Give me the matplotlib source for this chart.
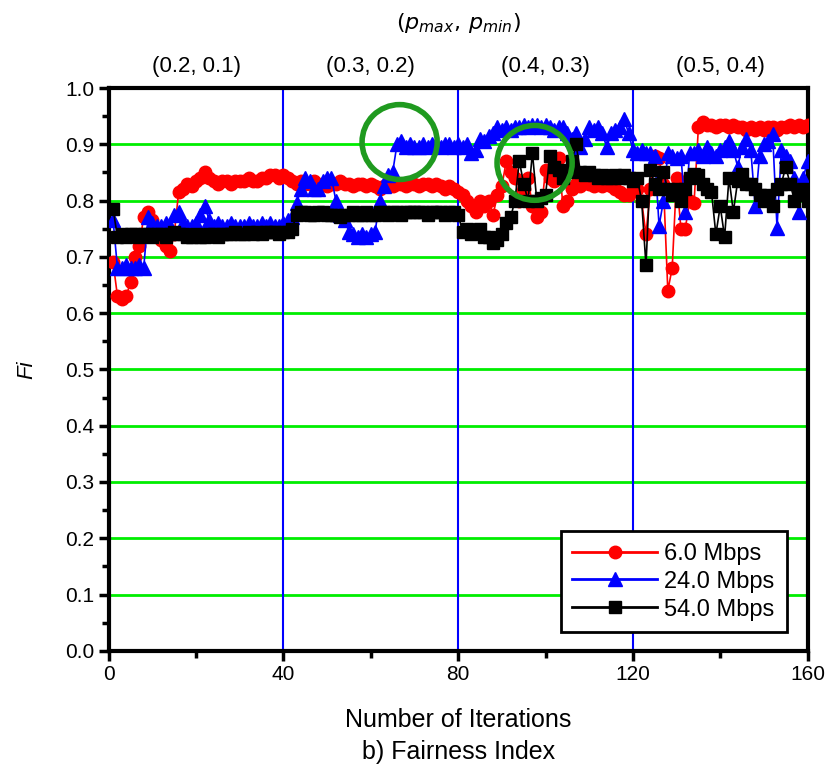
import numpy as np
import matplotlib.pyplot as plt
from matplotlib.patches import Ellipse
from matplotlib.ticker import MultipleLocator

# iterazioni
iterations = np.arange(1, 161)

fi_6 = [
    0.69, 0.63, 0.625, 0.63, 0.655, 0.70, 0.72, 0.77, 0.78, 0.765,
    0.74, 0.73, 0.72, 0.71, 0.74, 0.815, 0.82, 0.83, 0.825, 0.835,
    0.84, 0.85, 0.84, 0.835, 0.83, 0.835, 0.835, 0.83, 0.835, 0.835,
    0.835, 0.84, 0.835, 0.835, 0.84, 0.84, 0.845, 0.845, 0.84, 0.845,
    0.84, 0.835, 0.83, 0.835, 0.83, 0.83, 0.835, 0.83, 0.83, 0.825,
    0.83, 0.83, 0.835, 0.83, 0.83, 0.825, 0.83, 0.83, 0.825, 0.83,
    0.825, 0.82, 0.825, 0.83, 0.825, 0.83, 0.83, 0.825, 0.83, 0.83,
    0.825, 0.83, 0.83, 0.825, 0.83, 0.825, 0.82, 0.825, 0.82, 0.815,
    0.81, 0.80, 0.79, 0.78, 0.80, 0.79, 0.80, 0.775, 0.81, 0.825,
    0.87, 0.85, 0.84, 0.80, 0.82, 0.84, 0.79, 0.77, 0.78, 0.855,
    0.84, 0.835, 0.875, 0.79, 0.80, 0.82, 0.83, 0.825, 0.835, 0.83,
    0.825, 0.83, 0.825, 0.83, 0.825, 0.82, 0.815, 0.81, 0.81, 0.82,
    0.82, 0.80, 0.74, 0.82, 0.88, 0.875, 0.83, 0.64, 0.68, 0.84,
    0.75, 0.75, 0.80, 0.795, 0.93, 0.94, 0.935, 0.935, 0.93, 0.935,
    0.935, 0.93, 0.935, 0.93, 0.93, 0.925, 0.93, 0.925, 0.93, 0.925,
    0.93, 0.93, 0.925, 0.93, 0.93, 0.935, 0.93, 0.935, 0.93, 0.935,
]

fi_24 = [
    0.765, 0.68, 0.68, 0.685, 0.68, 0.68, 0.685, 0.68, 0.77, 0.76,
    0.755, 0.755, 0.76, 0.755, 0.775, 0.78, 0.76, 0.755, 0.755, 0.76,
    0.775, 0.79, 0.765, 0.755, 0.76, 0.755, 0.755, 0.76, 0.755, 0.755,
    0.755, 0.76, 0.755, 0.755, 0.76, 0.755, 0.76, 0.755, 0.755, 0.76,
    0.765, 0.77, 0.795, 0.82, 0.84, 0.835, 0.82, 0.82, 0.835, 0.84,
    0.84, 0.80, 0.775, 0.765, 0.745, 0.74, 0.735, 0.74, 0.735, 0.74,
    0.745, 0.80, 0.825, 0.845, 0.85, 0.90, 0.905, 0.895, 0.90, 0.895,
    0.895, 0.90, 0.895, 0.90, 0.90, 0.895, 0.90, 0.90, 0.895, 0.90,
    0.895, 0.90, 0.885, 0.89, 0.91, 0.905, 0.915, 0.92, 0.93, 0.925,
    0.93, 0.925, 0.93, 0.93, 0.935, 0.93, 0.935, 0.935, 0.93, 0.935,
    0.93, 0.925, 0.93, 0.93, 0.92, 0.91, 0.92, 0.895, 0.91, 0.93,
    0.925, 0.93, 0.92, 0.895, 0.92, 0.925, 0.93, 0.945, 0.92, 0.89,
    0.885, 0.89, 0.885, 0.885, 0.88, 0.755, 0.80, 0.885, 0.88, 0.875,
    0.88, 0.78, 0.885, 0.885, 0.89, 0.88, 0.895, 0.885, 0.88, 0.89,
    0.895, 0.905, 0.89, 0.86, 0.895, 0.91, 0.89, 0.79, 0.88, 0.90,
    0.905, 0.918, 0.752, 0.89, 0.88, 0.87, 0.84, 0.78, 0.84, 0.87,
]

fi_54 = [
    0.785, 0.735, 0.74, 0.735, 0.74, 0.74, 0.735, 0.74, 0.74, 0.735,
    0.74, 0.74, 0.735, 0.74, 0.745, 0.74, 0.74, 0.735, 0.735, 0.74,
    0.735, 0.735, 0.74, 0.74, 0.735, 0.74, 0.74, 0.74, 0.745, 0.74,
    0.74, 0.745, 0.74, 0.745, 0.74, 0.745, 0.745, 0.745, 0.74, 0.745,
    0.745, 0.75, 0.775, 0.78, 0.78, 0.775, 0.775, 0.78, 0.78, 0.775,
    0.775, 0.775, 0.77, 0.775, 0.775, 0.78, 0.775, 0.775, 0.78, 0.775,
    0.775, 0.78, 0.78, 0.775, 0.78, 0.78, 0.775, 0.78, 0.78, 0.78,
    0.78, 0.78, 0.775, 0.78, 0.78, 0.78, 0.775, 0.78, 0.78, 0.775,
    0.745, 0.75, 0.74, 0.745, 0.75, 0.735, 0.735, 0.725, 0.73, 0.74,
    0.76, 0.77, 0.80, 0.87, 0.83, 0.80, 0.885, 0.80, 0.805, 0.81,
    0.88, 0.86, 0.855, 0.84, 0.85, 0.87, 0.90, 0.85, 0.845, 0.85,
    0.845, 0.84, 0.845, 0.84, 0.84, 0.845, 0.84, 0.845, 0.84, 0.835,
    0.84, 0.80, 0.685, 0.855, 0.83, 0.82, 0.85, 0.82, 0.81, 0.82,
    0.80, 0.82, 0.84, 0.847, 0.845, 0.83, 0.82, 0.815, 0.74, 0.79,
    0.735, 0.84, 0.78, 0.835, 0.847, 0.83, 0.83, 0.82, 0.81, 0.80,
    0.81, 0.79, 0.82, 0.83, 0.86, 0.83, 0.80, 0.81, 0.82, 0.80,
]

# coppie (p_max, p_min) per ogni blocco di 40 iterazioni
block_labels = ["(0.2, 0.1)", "(0.3, 0.2)", "(0.4, 0.3)", "(0.5, 0.4)"]
block_edges = [40, 80, 120]

# cerchi di evidenziazione (centro x, centro y)
highlight_centers = [(66.6, 0.904), (97.5, 0.867)]

plt.rcParams['font.family'] = ['Liberation Sans', 'DejaVu Sans']

fig = plt.figure(figsize=(8.3, 7.72), dpi=100)
ax = fig.add_axes([0.131, 0.157, 0.842, 0.729])

# griglia verde e separatori blu
for g in np.arange(0.1, 0.95, 0.1):
    ax.axhline(g, color='#00ee00', linewidth=2, zorder=1)
for e in block_edges:
    ax.axvline(e, color='#0000ff', linewidth=1.5, zorder=1)

ax.plot(iterations, fi_6, color='red', marker='o', markersize=9,
        linewidth=1.2, label="6.0 Mbps", zorder=3)
ax.plot(iterations, fi_24, color='blue', marker='^', markersize=9.5,
        linewidth=1.2, label="24.0 Mbps", zorder=4)
ax.plot(iterations, fi_54, color='black', marker='s', markersize=8.5,
        linewidth=1.2, label="54.0 Mbps", zorder=5)

for cx, cy in highlight_centers:
    ax.add_patch(Ellipse((cx, cy), 17.2, 0.133, fill=False,
                         edgecolor='#1f9a1f', linewidth=4, zorder=6))

ax.set_xlim(0, 160)
ax.set_ylim(0, 1.0)
ax.xaxis.set_major_locator(MultipleLocator(40))
ax.xaxis.set_minor_locator(MultipleLocator(20))
ax.yaxis.set_major_locator(MultipleLocator(0.1))
ax.yaxis.set_minor_locator(MultipleLocator(0.05))
ax.yaxis.set_major_formatter(plt.FormatStrFormatter('%.1f'))
ax.tick_params(which='major', direction='out', length=7, width=2.5, labelsize=15)
ax.tick_params(which='minor', direction='out', length=5, width=2.5)
for sp in ax.spines.values():
    sp.set_linewidth(3)

# etichette in alto
for i, lab in enumerate(block_labels):
    ax.text(20 + 40 * i, 1.02, lab, ha='center', va='bottom', fontsize=16,
            clip_on=False)
ax.text(80, 1.095, r'$(p_{max},\, p_{min})$', ha='center', va='bottom',
        fontsize=16, clip_on=False)

ax.set_xlabel("Number of Iterations\nb) Fairness Index", fontsize=18,
              labelpad=17, linespacing=1.4)
ax.set_ylabel("Fi", fontsize=16, style='italic', labelpad=20)

leg = ax.legend(loc='lower right', bbox_to_anchor=(0.98, 0.02), fontsize=17,
                fancybox=False, edgecolor='black', framealpha=1,
                handlelength=3.6, borderpad=0.5, labelspacing=0.25,
                handletextpad=0.3, borderaxespad=0.3)
leg.get_frame().set_linewidth(2)
for line in leg.get_lines():
    line.set_linewidth(2)
leg.set_zorder(10)

fig.savefig("out.png", dpi=100)
